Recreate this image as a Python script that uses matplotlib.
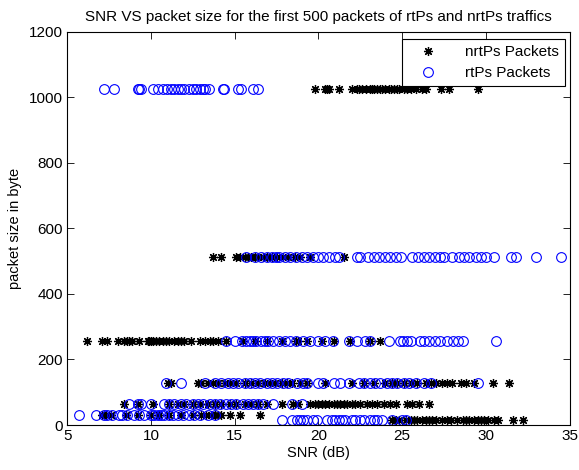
import matplotlib
matplotlib.use("Agg")
import matplotlib.pyplot as plt

plt.rcParams['font.family'] = ['Liberation Sans', 'DejaVu Sans']

sizes = [1024, 512, 256, 128, 64, 32, 16]

# nrtPs SNR values (dB) for each packet size level
nrt_1024 = [19.8, 20.4, 20.5, 20.6, 21.2, 22.0, 22.3, 22.45, 22.6, 22.85, 23.1, 23.2, 23.3, 23.5, 23.7, 23.8,
            24.0, 24.2, 24.35, 24.5, 24.7, 24.8, 25.1, 25.3, 25.5, 25.8, 26.2, 26.4, 27.3, 27.8, 29.5]
nrt_512 = [13.7, 14.2, 15.1, 15.3, 15.6, 15.8, 16.0, 16.2, 16.4, 16.7, 16.9, 17.2, 17.5, 17.9, 18.2,
           18.6, 18.9, 19.5, 21.5]
nrt_256 = [6.2, 7.05, 7.4, 8.05, 8.4, 8.6, 8.7, 8.9, 9.3, 9.8, 9.9, 10.0, 10.15, 10.3, 10.5, 10.7, 10.9,
           11.1, 11.4, 11.6, 11.8, 12.0, 12.4, 12.9, 13.2, 13.5, 13.7, 14.0, 14.5, 15.5, 16.2, 16.9,
           17.8, 18.65, 18.8, 19.3, 20.2, 20.9, 21.9, 23.1, 23.7]
nrt_128 = [11.0, 11.2, 12.8, 13.0, 13.4, 13.7, 14.0, 14.4, 14.7, 15.1, 15.6, 16.0, 16.4, 16.8, 17.1, 17.4,
           17.8, 18.1, 18.4, 18.9, 19.3, 20.4, 22.0, 22.7, 23.3, 24.0, 24.4, 24.7, 25.1, 25.5, 25.9, 26.4,
           26.7, 27.0, 27.4, 27.7, 28.0, 28.5, 28.8, 29.3, 30.4, 31.4]
nrt_64 = [8.4, 9.2, 10.1, 11.1, 11.6, 12.0, 12.5, 12.9, 13.4, 13.8, 14.2, 14.7, 15.1, 15.6, 16.0, 16.4,
          16.9, 17.8, 18.5, 18.8, 19.5, 19.8, 20.0, 20.2, 20.4, 20.6, 20.9, 21.1, 21.3, 21.5, 21.7, 22.0,
          22.2, 22.5, 22.9, 23.2, 23.5, 23.9, 24.3, 24.6, 25.3, 25.6, 26.0, 26.6]
nrt_32 = [7.1, 7.3, 7.6, 8.5, 9.2, 10.0, 10.5, 11.1, 11.8, 12.5, 13.0, 13.3, 13.6, 13.8, 14.0, 14.2,
          14.7, 15.3, 16.5]
nrt_16 = [24.4, 24.6, 24.8, 25.2, 25.5, 25.7, 25.9, 26.2, 26.4, 26.6, 26.8, 27.0, 27.4, 27.7, 27.9,
          28.3, 28.6, 28.8, 29.0, 29.3, 29.5, 29.7, 29.9, 30.1, 30.5, 30.7, 31.6, 32.2]

# rtPs SNR values (dB) for each packet size level
rt_1024 = [7.2, 7.8, 9.2, 9.3, 9.4, 10.15, 10.4, 10.7, 10.95, 11.2, 11.35, 11.6, 11.8, 12.0, 12.25,
           12.5, 12.7, 12.9, 13.1, 13.25, 13.45, 14.3, 14.35, 15.2, 15.4, 16.1, 16.4]
rt_512 = [15.7, 16.2, 16.55, 16.9, 17.2, 17.45, 17.65, 18.0, 18.3, 18.65, 19.0, 19.3, 19.65, 20.0, 20.3,
          20.65, 21.0, 21.2, 22.3, 22.5, 22.95, 23.3, 23.6, 23.95, 24.3, 24.6, 24.95, 25.6, 25.95, 26.3,
          26.6, 26.95, 27.25, 27.5, 27.95, 28.4, 28.7, 29.0, 29.4, 29.7, 30.0, 30.5, 31.5, 31.8, 33.0, 34.45]
rt_256 = [14.5, 15.0, 15.45, 15.7, 15.9, 16.1, 16.3, 16.55, 16.8, 17.0, 17.3, 17.65, 18.0, 18.3, 18.65,
          19.1, 19.5, 20.0, 20.4, 20.85, 21.85, 22.3, 22.75, 23.05, 24.2, 24.85, 25.05, 25.3, 25.5, 26.05,
          26.3, 26.6, 26.95, 27.25, 27.7, 28.05, 28.35, 28.6, 30.6]
rt_128 = [10.9, 11.8, 13.2, 13.8, 14.2, 14.6, 14.9, 15.2, 15.6, 15.9, 16.2, 16.5, 16.9, 17.2, 17.5, 17.9,
          18.2, 18.7, 19.1, 19.3, 20.0, 20.3, 20.9, 21.3, 21.8, 22.4, 22.7, 23.1, 23.4, 23.7, 24.1, 24.4,
          24.7, 25.1, 25.4, 25.8, 26.3, 26.7, 29.5]
rt_64 = [8.7, 9.2, 9.4, 10.0, 10.8, 11.1, 11.4, 11.8, 12.1, 12.5, 12.8, 13.1, 13.5, 13.8, 14.1, 14.5,
         14.8, 15.1, 15.5, 15.8, 16.1, 16.4, 16.7, 17.3, 18.4, 19.0]
rt_32 = [5.7, 6.7, 7.2, 7.4, 7.7, 8.1, 8.3, 8.6, 9.0, 9.3, 9.6, 10.0, 10.2, 10.4, 10.6, 10.8, 11.1, 11.3,
         11.6, 11.9, 12.3, 12.6, 12.9, 13.4, 13.8]
rt_16 = [17.8, 18.4, 18.7, 18.9, 19.1, 19.3, 19.7, 19.9, 20.5, 20.8, 21.0, 21.2, 21.4, 21.6, 22.0, 22.2,
         22.5, 22.7, 23.1, 23.3, 23.5, 23.8, 24.4, 25.0, 25.2]

nrt_levels = [nrt_1024, nrt_512, nrt_256, nrt_128, nrt_64, nrt_32, nrt_16]
rt_levels = [rt_1024, rt_512, rt_256, rt_128, rt_64, rt_32, rt_16]

nrt_x, nrt_y, rt_x, rt_y = [], [], [], []
for s, xs in zip(sizes, nrt_levels):
    nrt_x += xs
    nrt_y += [s] * len(xs)
for s, xs in zip(sizes, rt_levels):
    rt_x += xs
    rt_y += [s] * len(xs)

fig = plt.figure(figsize=(5.79, 4.70), dpi=100)
ax = fig.add_axes([0.116, 0.0957, 0.868, 0.837])

ax.plot(nrt_x, nrt_y, linestyle='none', marker=(8, 2, 0), markersize=6.5, color='black',
        markeredgewidth=0.9, label='nrtPs Packets')
ax.plot(rt_x, rt_y, linestyle='none', marker='o', markersize=7, markerfacecolor='none',
        markeredgecolor='blue', markeredgewidth=0.8, label='rtPs Packets')

ax.set_xlim(5, 35)
ax.set_ylim(0, 1200)
ax.set_xticks(range(5, 36, 5))
ax.set_yticks(range(0, 1201, 200))
ax.tick_params(direction='in', top=True, right=True, labelsize=11, length=5, width=0.6, pad=3)
for sp in ax.spines.values():
    sp.set_linewidth(0.8)

ax.set_title('SNR VS packet size for the first 500 packets of rtPs and nrtPs traffics', fontsize=11, pad=8)
ax.set_xlabel('SNR (dB)', fontsize=10.5, labelpad=2)
ax.set_ylabel('packet size in byte', fontsize=10.5, labelpad=5)

leg = ax.legend(loc='upper right', fontsize=11, fancybox=False, framealpha=1, edgecolor='black',
                bbox_to_anchor=(0.990, 0.981), borderaxespad=0, handletextpad=1.1,
                borderpad=0.4, labelspacing=0.45, handlelength=2.6)
leg.get_frame().set_linewidth(0.8)

fig.savefig('out.png', dpi=100)
